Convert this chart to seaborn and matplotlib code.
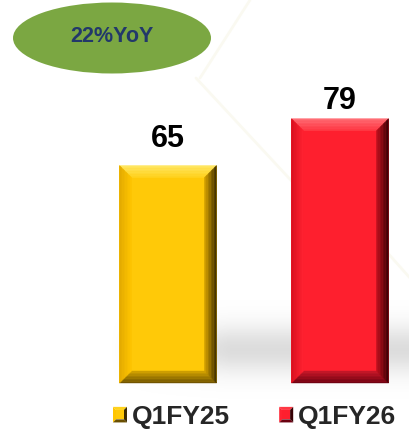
import numpy as np
import matplotlib
matplotlib.use("Agg")
import matplotlib.pyplot as plt
import seaborn as sns
from matplotlib.patches import Polygon, Ellipse
from matplotlib.legend_handler import HandlerBase
from matplotlib.colors import to_rgb

# ---- data ----
periods = ["Q1FY25", "Q1FY26"]
values = [65, 79]
bar_colors = ["#FFC908", "#FE1F2E"]
growth_label = "22%YoY"
label_offsets_pt = [8, 2.2]   # gap between bar top and value label

# bevel colour ramps (outer -> inner) for each bar: top, left, right, bottom
bevels = [
    {"top": ("#ffe867", "#ffd21c"), "left": ("#e2a900", "#ffc500"),
     "right": ("#3a2a00", "#d6a200"), "bottom": ("#6a4f00", "#d4a300")},
    {"top": ("#ff7078", "#ff3844"), "left": ("#d80f1e", "#ff2231"),
     "right": ("#360004", "#c0101e"), "bottom": ("#6a0010", "#c81828")},
]

sns.set_theme(style="white")
plt.rcParams["font.family"] = ["Liberation Sans", "DejaVu Sans"]

W, H = 410, 429
fig = plt.figure(figsize=(W / 100, H / 100), dpi=100)
fig.patch.set_facecolor("white")
ax = fig.add_axes([0, 0, 1, 1])
ax.set_facecolor("white")

# ---- soft floor shadow behind the bars ----
ny, nx = 200, 200
yy = np.linspace(0, 1, ny)[:, None]
xx = np.linspace(0, 1, nx)[None, :]
ypix = H - yy * H   # pixel row from top
xpix = xx * W
vert = np.exp(-((ypix - 350) / 24.0) ** 2)
horiz = np.clip((xpix - 110) / 120.0, 0, 1)
alpha = 0.30 * vert * horiz
img = np.zeros((ny, nx, 4))
img[..., :3] = 0.55
img[..., 3] = alpha
ax.imshow(img, extent=[0, 1, 0, 1], transform=ax.transAxes, origin="lower",
          aspect="auto", zorder=0, interpolation="bilinear")

# faint light streaks in the backdrop
for (xa, ya), (xb, yb) in [((250, 0), (200, 78)), ((196, 78), (300, 190)),
                           ((385, 250), (410, 278))]:
    ax.plot([xa / W, xb / W], [1 - ya / H, 1 - yb / H], transform=ax.transAxes,
            color="#f7f6e8", lw=2.0, alpha=0.6, zorder=0.5, solid_capstyle="round")

# ---- bars ----
sns.barplot(x=periods, y=values, hue=periods, palette=bar_colors, width=0.564,
            legend=False, ax=ax, saturation=1, zorder=2, edgecolor="none")

ax.set_xlim(-168 / 172, (W - 168) / 172)
ax.set_ylim(-46 / 3.346, (H - 46) / 3.346)
ax.axis("off")

bars = [p for p in ax.patches]
fig.canvas.draw()
to_data = ax.transData.inverted()


def lerp(c0, c1, t):
    a, b = np.array(to_rgb(c0)), np.array(to_rgb(c1))
    return a + (b - a) * t


def add_bevel(bar, ramp, depth=12, steps=8):
    (x0, y0), (x1, y1) = ax.transData.transform(
        [(bar.get_x(), bar.get_y()), (bar.get_x() + bar.get_width(), bar.get_y() + bar.get_height())])
    for i in range(steps):
        a = depth * i / steps
        b = depth * (i + 1) / steps
        t = (i + 0.5) / steps
        sides = {
            "top": [(x0 + a, y1 - a), (x1 - a, y1 - a), (x1 - b, y1 - b), (x0 + b, y1 - b)],
            "bottom": [(x0 + a, y0 + a), (x1 - a, y0 + a), (x1 - b, y0 + b), (x0 + b, y0 + b)],
            "left": [(x0 + a, y0 + a), (x0 + a, y1 - a), (x0 + b, y1 - b), (x0 + b, y0 + b)],
            "right": [(x1 - a, y0 + a), (x1 - a, y1 - a), (x1 - b, y1 - b), (x1 - b, y0 + b)],
        }
        for side, pts in sides.items():
            c = lerp(ramp[side][0], ramp[side][1], t)
            ax.add_patch(Polygon(to_data.transform(pts), closed=True, facecolor=c,
                                 edgecolor=c, lw=0.3, zorder=3))


for bar, ramp in zip(bars, bevels):
    add_bevel(bar, ramp)

# value labels
for bar, v, off in zip(bars, values, label_offsets_pt):
    ax.annotate(f"{v}", (bar.get_x() + bar.get_width() / 2, bar.get_height()),
                xytext=(0, off), textcoords="offset points", ha="center", va="bottom",
                fontsize=22, fontweight="bold", color="black", zorder=5)

# ---- growth badge ----
ax.add_patch(Ellipse((112 / W, 1 - 38 / H), 198 / W, 71 / H, transform=ax.transAxes,
                     facecolor="#7BA742", edgecolor="none", zorder=4))
ax.text(112 / W, 1 - 36 / H, growth_label, transform=ax.transAxes, ha="center",
        va="center", fontsize=15.5, fontweight="bold", color="#22386A", zorder=5)


# ---- legend with small pyramid-shaded swatches ----
class PyramidHandler(HandlerBase):
    def __init__(self, ramp):
        super().__init__()
        self.ramp = ramp

    def create_artists(self, legend, orig_handle, xdescent, ydescent, width,
                       height, fontsize, trans):
        x0, y0 = -xdescent, -ydescent
        x1, y1 = x0 + width, y0 + height
        ins = width * 0.22
        r = self.ramp
        parts = [
            ([(x0, y1), (x1, y1), (x1 - ins, y1 - ins), (x0 + ins, y1 - ins)], r["top"][1]),
            ([(x0, y0), (x0, y1), (x0 + ins, y1 - ins), (x0 + ins, y0 + ins)], r["left"][1]),
            ([(x1, y0), (x1, y1), (x1 - ins, y1 - ins), (x1 - ins, y0 + ins)], r["right"][0]),
            ([(x0, y0), (x1, y0), (x1 - ins, y0 + ins), (x0 + ins, y0 + ins)], r["bottom"][0]),
            ([(x0 + ins, y0 + ins), (x1 - ins, y0 + ins), (x1 - ins, y1 - ins), (x0 + ins, y1 - ins)],
             to_rgb(orig_handle.get_facecolor())),
        ]
        return [Polygon(pts, closed=True, facecolor=c, edgecolor="none", transform=trans)
                for pts, c in parts]


fs = 19
leg = ax.legend(bars, periods, handler_map={b: PyramidHandler(r) for b, r in zip(bars, bevels)},
                loc="center left", bbox_to_anchor=(113 / W, 12 / H), bbox_transform=fig.transFigure,
                ncol=2, frameon=False, handlelength=0.53, handleheight=0.53,
                handletextpad=0.19, columnspacing=1.86, borderpad=0, borderaxespad=0,
                prop={"size": fs, "weight": "bold"})

fig.savefig("out.png", dpi=100, facecolor="white")
